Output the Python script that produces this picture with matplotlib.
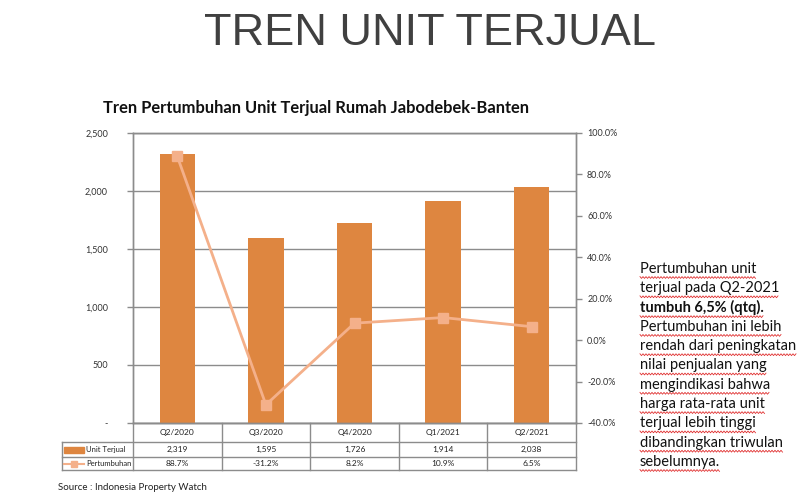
import matplotlib
matplotlib.use("Agg")
import matplotlib.pyplot as plt
from matplotlib.patches import Rectangle
from matplotlib.lines import Line2D
import matplotlib.transforms as mtransforms
import numpy as np

# ---- data ----
quarters = ["Q2/2020", "Q3/2020", "Q4/2020", "Q1/2021", "Q2/2021"]
units_sold = [2319, 1595, 1726, 1914, 2038]
growth_pct = [88.7, -31.2, 8.2, 10.9, 6.5]
left_ticks = [0, 500, 1000, 1500, 2000, 2500]
left_tick_labels = ["-", "500", "1,000", "1,500", "2,000", "2,500"]
right_ticks = [-40, -20, 0, 20, 40, 60, 80, 100]
series_names = ["Unit Terjual", "Pertumbuhan"]
note_lines = [
    ("Pertumbuhan unit", "normal"),
    ("terjual pada Q2-2021", "normal"),
    ("tumbuh 6,5% (qtq).", "bold"),
    ("Pertumbuhan ini lebih", "normal"),
    ("rendah dari peningkatan", "normal"),
    ("nilai penjualan yang", "normal"),
    ("mengindikasi bahwa", "normal"),
    ("harga rata-rata unit", "normal"),
    ("terjual lebih tinggi", "normal"),
    ("dibandingkan triwulan", "normal"),
    ("sebelumnya.", "normal"),
]

BAR = "#DE8640"
LINE = "#F4B08A"
GRID = "#8C8C8C"
FONT = "Lato"

W, H = 800, 500
fig = plt.figure(figsize=(8, 5), dpi=100)
fig.patch.set_facecolor("white")

def fx(px):
    return px / W

def fy(py):
    return 1 - py / H

ax_l, ax_r, ax_t, ax_b = 133, 576, 133, 423
ax = fig.add_axes([fx(ax_l), fy(ax_b), fx(ax_r - ax_l), (ax_b - ax_t) / H])
ax2 = ax.twinx()

n = len(quarters)
x = list(range(n))
ax.bar(x, units_sold, width=0.4, color=BAR, zorder=3)
ax.set_xlim(-0.5, n - 0.5)
ax.set_ylim(0, 2500)
ax.set_yticks(left_ticks)
ax.set_yticklabels(left_tick_labels)
ax.set_xticks([])
ax.grid(axis="y", color=GRID, lw=1.0, zorder=0)
ax.set_axisbelow(True)

ax2.plot(x, growth_pct, color=LINE, lw=2, marker="s", ms=7, mfc=LINE, mec=LINE, zorder=4)
ax2.set_ylim(-40, 100)
ax2.set_yticks(right_ticks)
ax2.set_yticklabels([f"{v:.1f}%" for v in right_ticks])

for a in (ax, ax2):
    for s in a.spines.values():
        s.set_color(GRID)
        s.set_linewidth(1.0)
    a.tick_params(axis="y", colors=GRID, length=4, width=1, labelsize=6.5, labelcolor="#333333")
    for lab in a.get_yticklabels():
        lab.set_family(FONT)
ax.tick_params(axis="y", pad=14)
ax2.tick_params(axis="y", pad=4)

# ---- data table below the axis ----
row_edges = [423, 442, 457, 470]  # pixel y
tbl_left = 62
trans = mtransforms.blended_transform_factory(ax.transData, fig.transFigure)
ftr = fig.transFigure
lc = GRID
for i, yy in enumerate(row_edges):
    x0 = ax_l if i == 0 else tbl_left
    fig.add_artist(Line2D([fx(x0), fx(ax_r)], [fy(yy), fy(yy)], transform=ftr, color=lc, lw=1))
fig.add_artist(Line2D([fx(tbl_left), fx(tbl_left)], [fy(row_edges[1]), fy(row_edges[-1])], transform=ftr, color=lc, lw=1))
fig.add_artist(Line2D([fx(ax_l), fx(ax_l)], [fy(row_edges[0]), fy(row_edges[-1])], transform=ftr, color=lc, lw=1))
for k in range(1, n + 1):
    fig.add_artist(Line2D([k - 0.5, k - 0.5], [fy(row_edges[0]), fy(row_edges[-1])], transform=trans, color=lc, lw=1))

def mid(i):
    return fy((row_edges[i] + row_edges[i + 1]) / 2)

for i in range(n):
    ax.text(i, mid(0), quarters[i], transform=trans, ha="center", va="center", fontsize=6, family=FONT, color="#222222")
    ax.text(i, mid(1), f"{units_sold[i]:,}", transform=trans, ha="center", va="center", fontsize=6, family=FONT, color="#222222")
    ax.text(i, mid(2), f"{growth_pct[i]:.1f}%", transform=trans, ha="center", va="center", fontsize=6, family=FONT, color="#222222")

fig.add_artist(Rectangle((fx(64), mid(1) - 3 / H), fx(20), 6 / H, transform=ftr, color=BAR))
fig.text(fx(86), mid(1), series_names[0], ha="left", va="center", fontsize=5.5, family=FONT, color="#222222")
fig.add_artist(Line2D([fx(64), fx(84)], [mid(2), mid(2)], transform=ftr, color=LINE, lw=1.5))
fig.add_artist(Line2D([fx(74)], [mid(2)], transform=ftr, color=LINE, marker="s", ms=4, ls="none"))
fig.text(fx(86), mid(2), series_names[1], ha="left", va="center", fontsize=5.5, family=FONT, color="#222222")

# ---- titles and texts ----
fig.text(fx(430), fy(33), "TREN UNIT TERJUAL", ha="center", va="center", fontsize=32.5,
         family="Liberation Sans", color="#404040")
fig.text(fx(103), fy(108), "Tren Pertumbuhan Unit Terjual Rumah Jabodebek-Banten", ha="left", va="center",
         fontsize=11.9, family=FONT, weight="bold", color="#111111")
fig.text(fx(58), fy(488), "Source : Indonesia Property Watch", ha="left", va="center", fontsize=7,
         family=FONT, color="#222222")

y0 = 269
note_texts = []
for j, (line, wt) in enumerate(note_lines):
    t = fig.text(fx(640), fy(y0 + j * 19.3), line, ha="left", va="center", fontsize=10.5, family=FONT,
                 weight=wt, color="#111111")
    note_texts.append(t)

# spell-check style wavy red underline under the note text
fig.canvas.draw()
r = fig.canvas.get_renderer()
for t in note_texts:
    bb = t.get_window_extent(r)
    xs = np.arange(bb.x0, bb.x1, 1.5)
    base = bb.y0 - 1.5
    ys = base + np.where(np.arange(len(xs)) % 2 == 0, 0.9, -0.9)
    fig.add_artist(Line2D(xs / W, ys / H, transform=ftr, color="#E03030", lw=0.6))

fig.savefig("out.png", dpi=100, facecolor="white")
